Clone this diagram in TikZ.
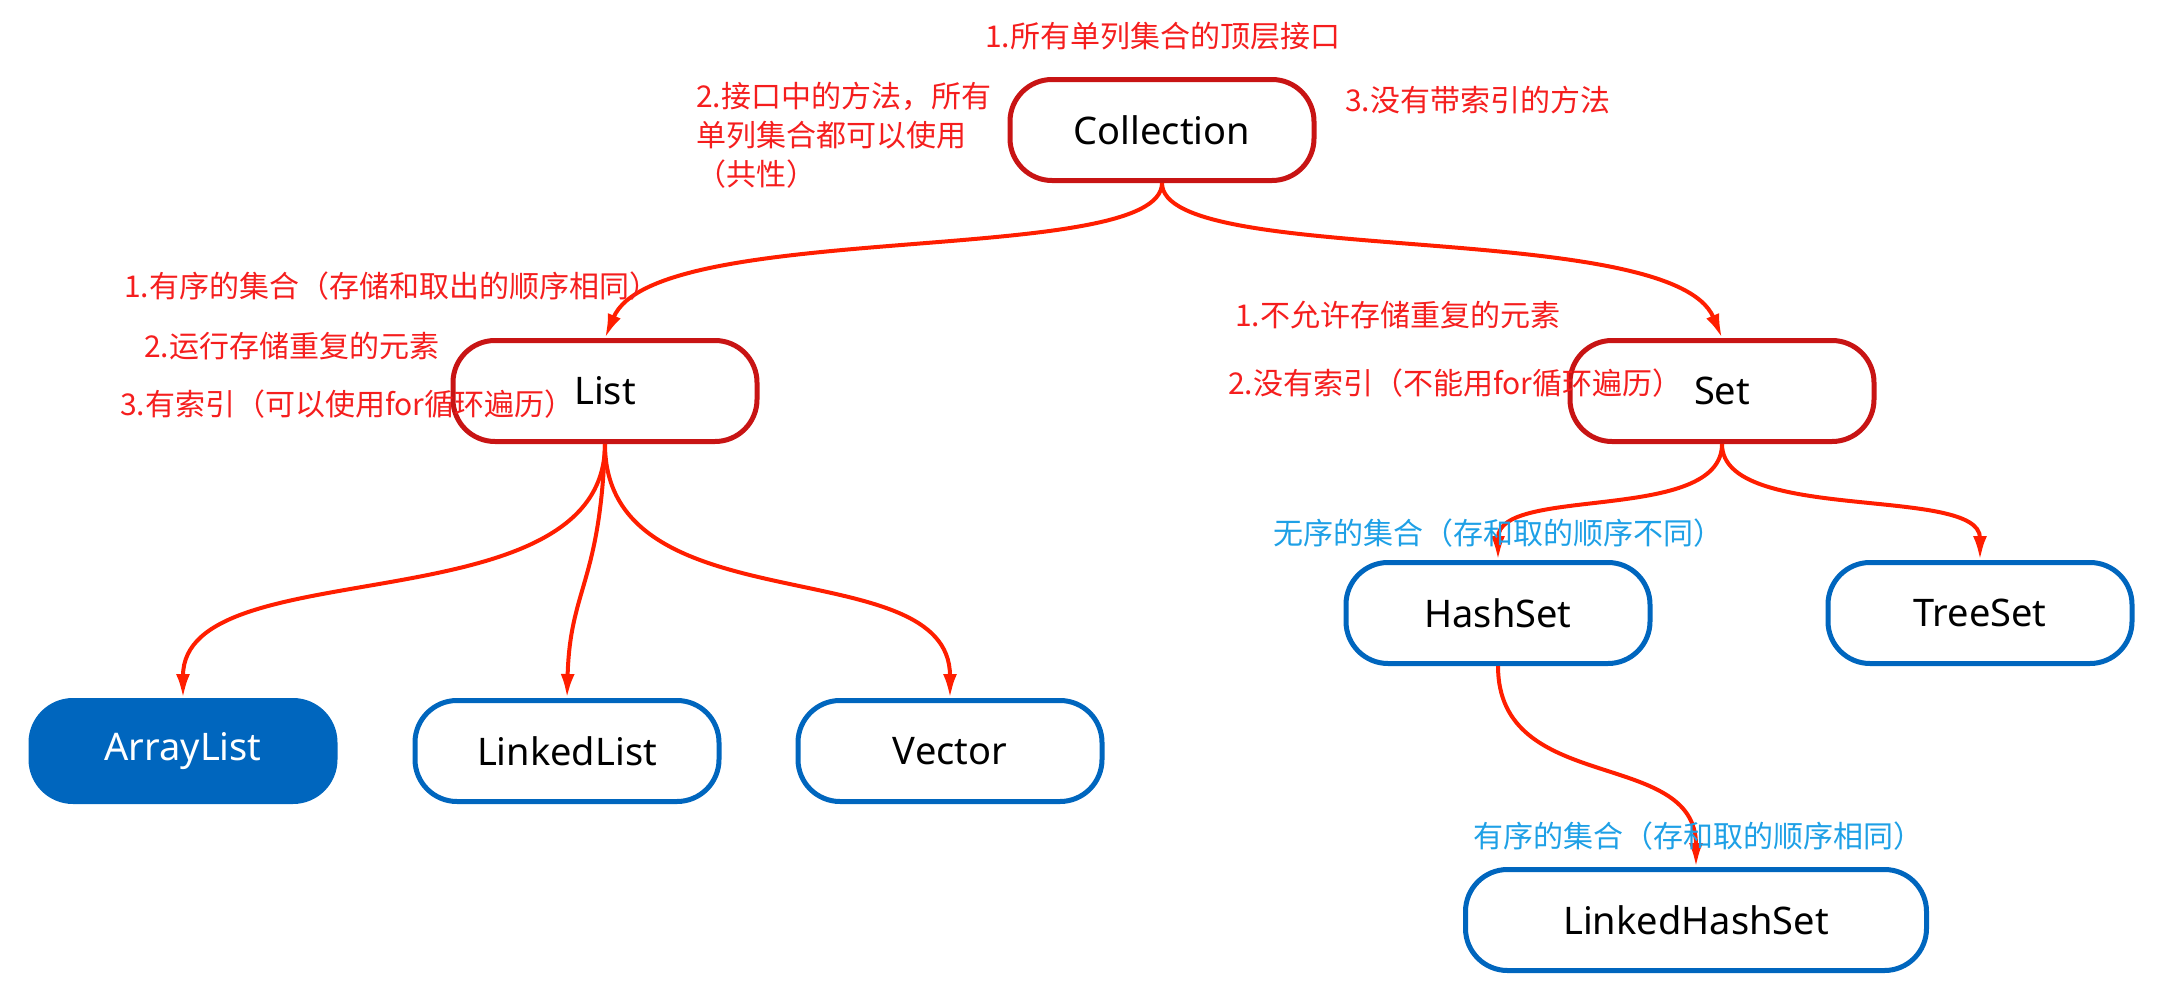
\documentclass[tikz,border=0pt]{standalone}
\usepackage{fontspec}
\setmainfont{Noto Sans}
\newfontfamily\cjk{Noto Sans CJK SC}
\usetikzlibrary{arrows.meta}
\definecolor{nodered}{RGB}{200,20,20}
\definecolor{nodeblue}{RGB}{0,102,190}
\definecolor{arrred}{RGB}{255,30,0}
\definecolor{txtred}{RGB}{245,30,30}
\definecolor{txtblue}{RGB}{30,160,230}
\begin{document}
\begin{tikzpicture}[x=1pt,y=-1pt,
  box/.style={rounded corners=42pt, minimum width=304pt, minimum height=101pt,
    line width=5pt, font=\fontsize{38}{40}\selectfont, fill=white, inner sep=0pt},
  redbox/.style={box, draw=nodered},
  bluebox/.style={box, draw=nodeblue},
  filledbox/.style={box, draw=nodeblue, fill=nodeblue, text=white},
  conn/.style={draw=arrred, line width=4pt, -{Latex[length=24pt,width=14pt]}},
  rnote/.style={anchor=west, text=txtred, font=\cjk\fontsize{30}{39}\selectfont, inner sep=0pt},
  bnote/.style={anchor=west, text=txtblue, font=\cjk\fontsize{30}{39}\selectfont, inner sep=0pt}
]
\useasboundingbox (0,0) rectangle (2169,985);

% nodes
\node[redbox] (col) at (1162,130) {Collection};
\node[redbox] (list) at (605,391) {List};
\node[redbox] (set) at (1722,391) {Set};
\node[filledbox] (al) at (183,751) {ArrayList};
\node[bluebox] (ll) at (567,751) {LinkedList};
\node[bluebox] (vec) at (950,751) {Vector};
\node[bluebox] (hs) at (1498,613) {HashSet};
\node[bluebox] (ts) at (1980,613) {TreeSet};
\node[bluebox, minimum width=461pt] (lhs) at (1696,920) {LinkedHashSet};

% connectors
\draw[conn] (col.south) .. controls +(0,85) and +(50,-120) .. (list.north);
\draw[conn] (col.south) .. controls +(0,85) and +(-50,-120) .. (set.north);
\draw[conn] (list.south) .. controls +(0,185) and +(0,-150) .. (al.north);
\draw[conn] (list.south) .. controls +(-5,140) and +(3,-110) .. (ll.north);
\draw[conn] (list.south) .. controls +(0,185) and +(0,-150) .. (vec.north);
\draw[conn] (set.south) .. controls +(0,80) and +(0,-75) .. (hs.north);
\draw[conn] (set.south) .. controls +(0,80) and +(0,-75) .. (ts.north);
\draw[conn] (hs.south) .. controls +(0,130) and +(0,-120) .. (lhs.north);

% notes
\node[rnote] (n1) at (985,36) {1.所有单列集合的顶层接口};
\node[rnote, anchor=north west, align=left] (n2) at (696,82) {2.接口中的方法，所有\\单列集合都可以使用\\（共性）};
\node[rnote] (n3) at (1345,100) {3.没有带索引的方法};
\node[rnote] (l1) at (124,286) {1.有序的集合（存储和取出的顺序相同）};
\node[rnote] (l2) at (144,346) {2.运行存储重复的元素};
\node[rnote] (l3) at (120,404) {3.有索引（可以使用for循环遍历）};
\node[rnote] (s1) at (1235,315) {1.不允许存储重复的元素};
\node[rnote] (s2) at (1228,383) {2.没有索引（不能用for循环遍历）};
\node[bnote] (b1) at (1273,533) {无序的集合（存和取的顺序不同）};
\node[bnote] (b2) at (1473,836) {有序的集合（存和取的顺序相同）};
\end{tikzpicture}
\end{document}
